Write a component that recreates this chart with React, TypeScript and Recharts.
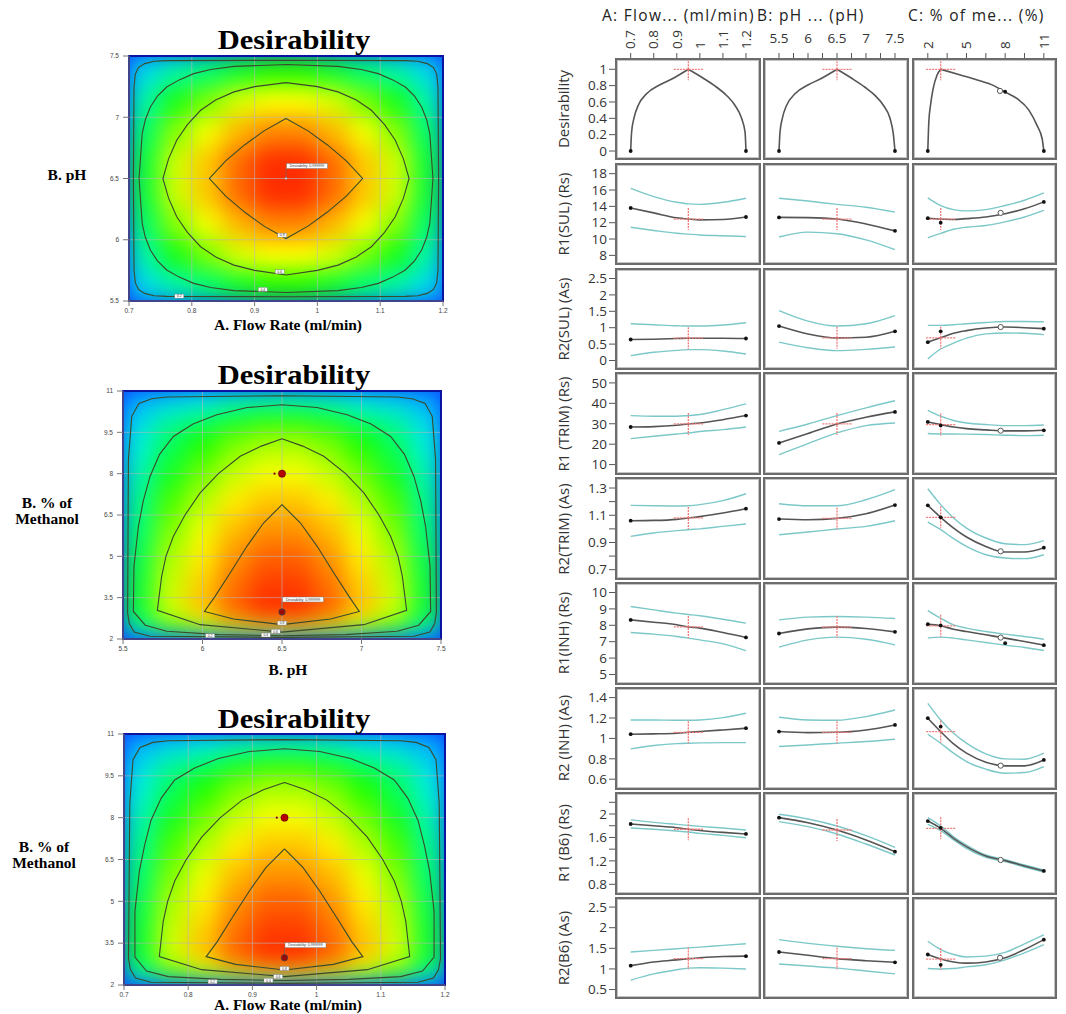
import React from 'react';
import { ComposedChart, Line, Scatter, XAxis, YAxis, CartesianGrid, ReferenceArea } from 'recharts';

/* ---------------- contour plots (left column) ---------------- */

const flowTicks = [0.7, 0.8, 0.9, 1, 1.1, 1.2];
const phTicks = [5.5, 6, 6.5, 7, 7.5];
const methTicks = [2, 3.5, 5, 6.5, 8, 9.5, 11];

// heat-map cell edges: columns left -> right, rows top -> bottom
const flowColEdges = [0.7, 0.75, 0.8, 0.85, 0.9, 0.95, 1.0, 1.05, 1.1, 1.15, 1.2];
const phColEdges = [5.5, 5.7, 5.9, 6.1, 6.3, 6.5, 6.7, 6.9, 7.1, 7.3, 7.5];
const phRowEdges = [7.5, 7.25, 7.0, 6.75, 6.5, 6.25, 6.0, 5.75, 5.5];
const methRowEdges = [11, 10.2, 9.5, 8.5, 7.5, 6.5, 5.5, 4.5, 3.5, 3.0, 2.5, 2.2, 2.0];

// desirability estimated from the colour field, one value per cell
const heatFlowPh = [
  [0.24, 0.34, 0.40, 0.46, 0.50, 0.50, 0.46, 0.40, 0.34, 0.24],
  [0.34, 0.48, 0.57, 0.66, 0.70, 0.70, 0.66, 0.57, 0.48, 0.34],
  [0.41, 0.58, 0.69, 0.79, 0.85, 0.85, 0.79, 0.69, 0.58, 0.41],
  [0.45, 0.65, 0.77, 0.88, 0.95, 0.95, 0.88, 0.77, 0.65, 0.45],
  [0.45, 0.65, 0.77, 0.88, 0.95, 0.95, 0.88, 0.77, 0.65, 0.45],
  [0.41, 0.58, 0.69, 0.79, 0.85, 0.85, 0.79, 0.69, 0.58, 0.41],
  [0.34, 0.48, 0.57, 0.66, 0.70, 0.70, 0.66, 0.57, 0.48, 0.34],
  [0.24, 0.34, 0.40, 0.46, 0.50, 0.50, 0.46, 0.40, 0.34, 0.24],
];
const heatPhMeth = [
  [0.16, 0.23, 0.27, 0.32, 0.34, 0.34, 0.32, 0.27, 0.23, 0.16],
  [0.24, 0.35, 0.41, 0.47, 0.51, 0.51, 0.47, 0.41, 0.35, 0.24],
  [0.29, 0.42, 0.50, 0.57, 0.61, 0.61, 0.57, 0.50, 0.42, 0.29],
  [0.33, 0.47, 0.56, 0.64, 0.69, 0.69, 0.64, 0.56, 0.47, 0.33],
  [0.37, 0.53, 0.62, 0.72, 0.77, 0.77, 0.72, 0.62, 0.53, 0.37],
  [0.40, 0.57, 0.68, 0.78, 0.83, 0.83, 0.78, 0.68, 0.57, 0.40],
  [0.43, 0.61, 0.72, 0.83, 0.89, 0.89, 0.83, 0.72, 0.61, 0.43],
  [0.45, 0.64, 0.76, 0.87, 0.93, 0.93, 0.87, 0.76, 0.64, 0.45],
  [0.46, 0.66, 0.79, 0.90, 0.96, 0.96, 0.90, 0.79, 0.66, 0.46],
  [0.43, 0.62, 0.73, 0.84, 0.90, 0.90, 0.84, 0.73, 0.62, 0.43],
  [0.33, 0.47, 0.56, 0.64, 0.69, 0.69, 0.64, 0.56, 0.47, 0.33],
  [0.16, 0.23, 0.27, 0.32, 0.34, 0.34, 0.32, 0.27, 0.23, 0.16],
];
const heatFlowMeth = [
  [0.16, 0.23, 0.27, 0.32, 0.34, 0.34, 0.32, 0.27, 0.23, 0.16],
  [0.24, 0.35, 0.41, 0.47, 0.51, 0.51, 0.47, 0.41, 0.35, 0.24],
  [0.29, 0.42, 0.50, 0.57, 0.61, 0.61, 0.57, 0.50, 0.42, 0.29],
  [0.33, 0.47, 0.56, 0.64, 0.69, 0.69, 0.64, 0.56, 0.47, 0.33],
  [0.37, 0.53, 0.62, 0.72, 0.77, 0.77, 0.72, 0.62, 0.53, 0.37],
  [0.40, 0.57, 0.68, 0.78, 0.83, 0.83, 0.78, 0.68, 0.57, 0.40],
  [0.43, 0.61, 0.72, 0.83, 0.89, 0.89, 0.83, 0.72, 0.61, 0.43],
  [0.45, 0.64, 0.76, 0.87, 0.93, 0.93, 0.87, 0.76, 0.64, 0.45],
  [0.46, 0.66, 0.79, 0.90, 0.96, 0.96, 0.90, 0.79, 0.66, 0.46],
  [0.43, 0.62, 0.73, 0.84, 0.90, 0.90, 0.84, 0.73, 0.62, 0.43],
  [0.33, 0.47, 0.56, 0.64, 0.69, 0.69, 0.64, 0.56, 0.47, 0.33],
  [0.16, 0.23, 0.27, 0.32, 0.34, 0.34, 0.32, 0.27, 0.23, 0.16],
];

// contour lines (0.2, 0.4, 0.6, 0.8), traced point by point
const contoursFlowPh = [
  [[0.95, 7.465], [1.14, 7.462], [1.16, 7.457], [1.175, 7.438], [1.185, 7.405], [1.19, 7.35], [1.192, 7.247], [1.193, 6.5], [1.192, 5.753], [1.19, 5.65], [1.185, 5.595], [1.175, 5.562], [1.16, 5.543], [1.14, 5.538], [0.95, 5.535], [0.76, 5.538], [0.74, 5.543], [0.725, 5.562], [0.715, 5.595], [0.71, 5.65], [0.708, 5.753], [0.707, 6.5], [0.708, 7.247], [0.71, 7.35], [0.715, 7.405], [0.725, 7.438], [0.74, 7.457], [0.76, 7.462], [0.95, 7.465]],
  [[0.95, 7.43], [1.033, 7.415], [1.07, 7.39], [1.097, 7.356], [1.12, 7.305], [1.14, 7.247], [1.155, 7.17], [1.166, 7.084], [1.174, 6.98], [1.179, 6.867], [1.184, 6.5], [1.179, 6.133], [1.174, 6.02], [1.166, 5.916], [1.155, 5.83], [1.14, 5.753], [1.12, 5.695], [1.097, 5.644], [1.07, 5.61], [1.033, 5.585], [0.95, 5.57], [0.867, 5.585], [0.83, 5.61], [0.803, 5.644], [0.78, 5.695], [0.76, 5.753], [0.745, 5.83], [0.734, 5.916], [0.726, 6.02], [0.721, 6.133], [0.716, 6.5], [0.721, 6.867], [0.726, 6.98], [0.734, 7.084], [0.745, 7.17], [0.76, 7.247], [0.78, 7.305], [0.803, 7.356], [0.83, 7.39], [0.867, 7.415], [0.95, 7.43]],
  [[0.95, 7.283], [1.0, 7.25], [1.033, 7.207], [1.062, 7.14], [1.086, 7.057], [1.107, 6.94], [1.124, 6.812], [1.137, 6.66], [1.146, 6.5], [1.137, 6.34], [1.124, 6.188], [1.107, 6.06], [1.086, 5.943], [1.062, 5.86], [1.033, 5.793], [1.0, 5.75], [0.95, 5.712], [0.9, 5.75], [0.867, 5.793], [0.838, 5.86], [0.814, 5.943], [0.793, 6.06], [0.776, 6.188], [0.763, 6.34], [0.754, 6.5], [0.763, 6.66], [0.776, 6.812], [0.793, 6.94], [0.814, 7.057], [0.838, 7.14], [0.867, 7.207], [0.9, 7.25], [0.95, 7.283]],
  [[0.95, 6.99], [0.985, 6.889], [1.016, 6.774], [1.046, 6.644], [1.072, 6.5], [1.046, 6.356], [1.016, 6.226], [0.985, 6.111], [0.95, 6.01], [0.915, 6.111], [0.884, 6.226], [0.854, 6.356], [0.828, 6.5], [0.854, 6.644], [0.884, 6.774], [0.915, 6.889], [0.95, 6.99]],
];
const contoursPhMeth = [
  [[6.5, 10.83], [7.225, 10.78], [7.32, 10.72], [7.4, 10.55], [7.445, 10.08], [7.466, 8.51], [7.471, 2.94], [7.46, 2.55], [7.43, 2.25], [7.33, 2.1], [6.5, 2.06], [5.67, 2.1], [5.57, 2.25], [5.54, 2.55], [5.529, 2.94], [5.534, 8.51], [5.555, 10.08], [5.6, 10.55], [5.68, 10.72], [5.775, 10.78], [6.5, 10.83]],
  [[6.5, 10.5], [6.72, 10.4], [6.91, 10.14], [7.06, 9.8], [7.183, 9.35], [7.27, 8.7], [7.33, 7.9], [7.373, 7.0], [7.403, 6.09], [7.431, 4.64], [7.435, 3.0], [7.36, 2.5], [7.225, 2.28], [6.9, 2.16], [6.5, 2.12], [6.1, 2.16], [5.775, 2.28], [5.64, 2.5], [5.565, 3.0], [5.569, 4.64], [5.597, 6.09], [5.627, 7.0], [5.67, 7.9], [5.73, 8.7], [5.817, 9.35], [5.94, 9.8], [6.09, 10.14], [6.28, 10.4], [6.5, 10.5]],
  [[6.5, 9.27], [6.63, 9.0], [6.763, 8.63], [6.9, 8.0], [7.015, 7.3], [7.11, 6.5], [7.183, 5.726], [7.23, 5.0], [7.257, 4.274], [7.284, 3.04], [7.015, 2.52], [6.5, 2.25], [5.985, 2.52], [5.716, 3.04], [5.743, 4.274], [5.77, 5.0], [5.817, 5.726], [5.89, 6.5], [5.985, 7.3], [6.1, 8.0], [6.237, 8.63], [6.37, 9.0], [6.5, 9.27]],
  [[6.5, 6.875], [6.616, 6.21], [6.721, 5.363], [6.826, 4.395], [6.921, 3.548], [6.986, 3.0], [6.805, 2.726], [6.5, 2.52], [6.195, 2.726], [6.012, 3.0], [6.079, 3.548], [6.174, 4.395], [6.279, 5.363], [6.384, 6.21], [6.5, 6.875]],
];
const contoursFlowMeth = [
  [[0.95, 10.8], [1.131, 10.76], [1.155, 10.7], [1.175, 10.52], [1.186, 10.08], [1.191, 8.51], [1.193, 2.94], [1.19, 2.55], [1.182, 2.25], [1.158, 2.1], [0.95, 2.06], [0.742, 2.1], [0.718, 2.25], [0.71, 2.55], [0.707, 2.94], [0.709, 8.51], [0.714, 10.08], [0.725, 10.52], [0.745, 10.7], [0.769, 10.76], [0.95, 10.8]],
  [[0.95, 10.47], [1.005, 10.37], [1.053, 10.12], [1.09, 9.78], [1.121, 9.35], [1.142, 8.7], [1.158, 7.9], [1.168, 7.0], [1.176, 6.09], [1.183, 4.64], [1.183, 3.0], [1.165, 2.5], [1.131, 2.3], [1.05, 2.2], [0.95, 2.16], [0.85, 2.2], [0.769, 2.3], [0.735, 2.5], [0.717, 3.0], [0.717, 4.64], [0.724, 6.09], [0.732, 7.0], [0.742, 7.9], [0.758, 8.7], [0.779, 9.35], [0.81, 9.78], [0.847, 10.12], [0.895, 10.37], [0.95, 10.47]],
  [[0.95, 9.26], [0.983, 9.0], [1.016, 8.63], [1.05, 8.0], [1.079, 7.3], [1.103, 6.5], [1.121, 5.726], [1.132, 5.0], [1.139, 4.274], [1.145, 3.02], [1.079, 2.55], [0.95, 2.3], [0.821, 2.55], [0.755, 3.02], [0.761, 4.274], [0.768, 5.0], [0.779, 5.726], [0.797, 6.5], [0.821, 7.3], [0.85, 8.0], [0.884, 8.63], [0.917, 9.0], [0.95, 9.26]],
  [[0.95, 6.88], [0.979, 6.21], [1.005, 5.363], [1.032, 4.395], [1.055, 3.548], [1.072, 3.02], [1.026, 2.74], [0.95, 2.54], [0.874, 2.74], [0.828, 3.02], [0.845, 3.548], [0.868, 4.395], [0.895, 5.363], [0.921, 6.21], [0.95, 6.88]],
];

const contourLevels = ['0.2', '0.4', '0.6', '0.8'];
const labelsFlowPh = [[0.78, 5.54], [0.913, 5.595], [0.94, 5.739], [0.944, 6.038]];
const labelsPhMeth = [[6.048, 2.12], [6.398, 2.145], [6.46, 2.28], [6.5, 2.58]];
const labelsFlowMeth = [[0.838, 2.12], [0.925, 2.17], [0.94, 2.3], [0.95, 2.59]];

// optimum flags and the design points shown as red dots
const optFlowPh = [0.95, 6.5];
const optPhMeth = [6.5, 2.98];
const optFlowMeth = [0.95, 2.98];
const redPhMeth = [[6.5, 8.0]];
const redSmallPhMeth = [[6.453, 8.0]];
const redFlowMeth = [[0.95, 8.0]];
const redSmallFlowMeth = [[0.938, 8.0]];

const heatStops: [number, number[]][] = [
  [0, [16, 32, 255]], [0.15, [0, 176, 255]], [0.28, [0, 240, 224]], [0.4, [0, 255, 112]],
  [0.5, [32, 255, 0]], [0.6, [160, 255, 0]], [0.7, [255, 255, 0]], [0.8, [255, 176, 0]],
  [0.9, [255, 90, 0]], [1, [255, 0, 0]],
];

function heatColor(v: number) {
  for (let i = 1; i < heatStops.length; i++) {
    const [b, cb] = heatStops[i];
    const [a, ca] = heatStops[i - 1];
    if (v <= b) {
      const t = (v - a) / (b - a);
      const c = ca.map((k, j) => Math.round(k + (cb[j] - k) * t));
      return `rgb(${c[0]},${c[1]},${c[2]})`;
    }
  }
  return 'rgb(255,0,0)';
}

const pts = (list: number[][]) => list.map(([x, y]) => ({ x, y }));

const Empty = () => <g />;

const RedDot = (p: any) => <circle cx={p.cx} cy={p.cy} r={3.6} fill="#b40000" stroke="#5a0000" strokeWidth={0.6} />;
const RedSmall = (p: any) => <circle cx={p.cx} cy={p.cy} r={1.1} fill="#8a0000" />;

const ContourTag = (p: any) => (
  <g>
    <rect x={p.cx - 4.5} y={p.cy - 2} width={9} height={4} fill="#fff" stroke="#777" strokeWidth={0.4} />
    <text x={p.cx} y={p.cy + 1.3} fontSize={3.4} textAnchor="middle" fill="#333" fontFamily="Liberation Sans">{p.payload.t}</text>
  </g>
);

const makeFlag = (big: boolean) => (p: any) => (
  <g>
    <line x1={p.cx} y1={p.cy} x2={p.cx} y2={p.cy - 10} stroke="#666" strokeWidth={0.6} />
    <rect x={p.cx + 0.5} y={p.cy - 15} width={41} height={5} fill="#fff" stroke="#777" strokeWidth={0.5} />
    <text x={p.cx + 21} y={p.cy - 11.3} fontSize={3.6} textAnchor="middle" fill="#333" fontFamily="Liberation Sans">Desirability: 0.999999</text>
    {big
      ? <circle cx={p.cx} cy={p.cy} r={3.2} fill="#9a0a0a" stroke="#444" strokeWidth={0.8} />
      : <circle cx={p.cx} cy={p.cy} r={1.2} fill="#ddd" stroke="#666" strokeWidth={0.4} />}
  </g>
);

const PAD = 36;
const serif = "'Liberation Serif', 'Times New Roman', serif";

function Text({ x, y, children, style }: any) {
  return (
    <div style={{ position: 'absolute', left: x, top: y, transform: 'translate(-50%, -50%)', whiteSpace: 'nowrap', lineHeight: 1.0, ...style }}>
      {children}
    </div>
  );
}

function ContourPlot({ rect, xDomain, yDomain, xTicks, yTicks, xEdges, yEdges, heat, contours, labels, opt, bigOpt, red, redSmall, title, ylabel, xlabel }: any) {
  const cells: any[] = [];
  heat.forEach((row: number[], i: number) =>
    row.forEach((v: number, j: number) => {
      const c = heatColor(v);
      cells.push(
        <ReferenceArea key={`c${i}-${j}`} x1={xEdges[j]} x2={xEdges[j + 1]} y1={yEdges[i + 1]} y2={yEdges[i]}
          fill={c} fillOpacity={1} stroke={c} strokeWidth={0.8} ifOverflow="visible" />,
      );
    }),
  );
  const tagData = labels.map(([x, y]: number[], i: number) => ({ x, y, t: contourLevels[i] }));
  const tickStyle = { fontSize: 6.5, fill: '#444', fontFamily: 'Liberation Sans' };
  return (
    <>
      <div style={{ position: 'absolute', left: rect.x, top: rect.y, width: rect.w, height: rect.h, overflow: 'hidden' }}>
        <div style={{ position: 'absolute', left: -PAD, top: -PAD, width: rect.w + 2 * PAD, height: rect.h + 2 * PAD, background: '#1038ff', filter: 'blur(11px)' }}>
          <ComposedChart width={rect.w + 2 * PAD} height={rect.h + 2 * PAD} margin={{ top: PAD, right: PAD, bottom: PAD, left: PAD }}>
            <XAxis type="number" dataKey="x" domain={xDomain} allowDataOverflow hide />
            <YAxis type="number" dataKey="y" domain={yDomain} allowDataOverflow hide />
            {cells}
            <Scatter data={pts([[xDomain[0], yDomain[0]]])} shape={Empty} isAnimationActive={false} />
          </ComposedChart>
        </div>
      </div>
      <div style={{ position: 'absolute', left: rect.x - 40, top: rect.y - 8 }}>
        <ComposedChart width={rect.w + 48} height={rect.h + 32} margin={{ top: 8, right: 8, bottom: 4, left: 10 }}>
          <CartesianGrid stroke="#b8b8b8" strokeOpacity={0.75} strokeWidth={0.8} />
          <XAxis type="number" dataKey="x" domain={xDomain} ticks={xTicks} interval={0} allowDataOverflow height={20}
            tick={tickStyle} tickSize={5} tickMargin={2} stroke="#777" />
          <YAxis type="number" dataKey="y" domain={yDomain} ticks={yTicks} interval={0} allowDataOverflow width={30}
            tick={tickStyle} tickSize={6} tickMargin={4} stroke="#777" />
          <ReferenceArea x1={xDomain[0]} x2={xDomain[1]} y1={yDomain[0]} y2={yDomain[1]} fill="none" stroke="#0a14a0" strokeWidth={2} ifOverflow="visible" />
          {contours.map((c: number[][], i: number) => (
            <Scatter key={`k${i}`} data={pts(c)} shape={Empty} line={{ stroke: '#3a4a2c', strokeWidth: 1.1 }} lineJointType="linear" isAnimationActive={false} />
          ))}
          <Scatter data={tagData} shape={ContourTag} isAnimationActive={false} />
          {red && <Scatter data={pts(redSmall)} shape={RedSmall} isAnimationActive={false} />}
          {red && <Scatter data={pts(red)} shape={RedDot} isAnimationActive={false} />}
          <Scatter data={pts([opt])} shape={makeFlag(bigOpt)} isAnimationActive={false} />
        </ComposedChart>
      </div>
      <Text x={294} y={title} style={{ fontFamily: serif, fontWeight: 700, fontSize: 27, transform: 'translate(-50%, -50%) scaleX(1.13)' }}>Desirability</Text>
      <Text x={ylabel.x} y={ylabel.y} style={{ fontFamily: serif, fontWeight: 700, fontSize: 15.5, textAlign: 'center', lineHeight: 1.0 }}>
        {ylabel.lines.map((l: string) => <div key={l}>{l}</div>)}
      </Text>
      <Text x={288} y={xlabel.y} style={{ fontFamily: serif, fontWeight: 700, fontSize: 15.5 }}>{xlabel.text}</Text>
    </>
  );
}

/* ---------------- prediction profiler (right) ---------------- */

const flowX = [0.7, 0.8, 0.9, 0.95, 1.0, 1.1, 1.2];
const phX = [5.5, 6, 6.5, 7, 7.5];
const methX = [2, 3, 4, 5, 6.5, 8, 9.5, 11];
const settings = [0.95, 6.5, 3];

const desFlowX = [0.7, 0.704, 0.714, 0.733, 0.769, 0.827, 0.885, 0.95, 1.015, 1.073, 1.116, 1.152, 1.181, 1.196, 1.2];
const desFlowY = [0, 0.23, 0.4, 0.56, 0.7, 0.81, 0.89, 1.0, 0.89, 0.78, 0.68, 0.56, 0.4, 0.23, 0];
const desPhX = [5.5, 5.517, 5.557, 5.632, 5.776, 6.006, 6.236, 6.5, 6.753, 6.983, 7.155, 7.299, 7.414, 7.471, 7.5];
const desPhY = [0, 0.23, 0.4, 0.56, 0.7, 0.81, 0.89, 1.0, 0.89, 0.78, 0.68, 0.56, 0.4, 0.21, 0];
const desMethX = [2, 2.08, 2.21, 2.41, 2.72, 3.0, 4.53, 5.83, 7.12, 7.9, 8.93, 9.84, 10.48, 10.87, 11];
const desMethY = [0, 0.36, 0.56, 0.76, 0.93, 1.0, 0.93, 0.87, 0.80, 0.73, 0.64, 0.50, 0.31, 0.15, 0];
const desRings = [[7.6, 0.735]];
const desDots = [[8.0, 0.725]];

const r1Sul = {
  flow: { pred: [13.8, 13.2, 12.6, 12.45, 12.35, 12.4, 12.7], lo: [11.45, 11.05, 10.7, 10.6, 10.5, 10.4, 10.3], hi: [16.2, 15.2, 14.5, 14.3, 14.25, 14.5, 15.0] },
  ph: { pred: [12.65, 12.62, 12.45, 11.85, 11.0], lo: [10.25, 10.85, 10.65, 9.9, 8.7], hi: [15.0, 14.65, 14.25, 13.9, 13.3] },
  meth: { pred: [12.55, 12.45, 12.4, 12.5, 12.7, 13.1, 13.7, 14.55], lo: [10.15, 10.7, 11.2, 11.45, 11.65, 12.1, 12.7, 13.5], hi: [15.05, 14.1, 13.6, 13.45, 13.6, 14.1, 14.75, 15.65] },
  dots: [[3, 12.0]], rings: [[7.65, 13.2]],
};
const r2Sul = {
  flow: { pred: [0.64, 0.65, 0.67, 0.68, 0.68, 0.68, 0.67], lo: [0.15, 0.25, 0.31, 0.33, 0.33, 0.29, 0.2], hi: [1.12, 1.09, 1.06, 1.05, 1.05, 1.08, 1.15] },
  ph: { pred: [1.05, 0.81, 0.69, 0.71, 0.89], lo: [0.56, 0.39, 0.30, 0.34, 0.41], hi: [1.52, 1.2, 1.05, 1.12, 1.37] },
  meth: { pred: [0.56, 0.69, 0.83, 0.91, 0.99, 1.02, 1.0, 0.97], lo: [0.05, 0.35, 0.53, 0.68, 0.81, 0.84, 0.83, 0.79], hi: [1.07, 1.07, 1.09, 1.12, 1.16, 1.19, 1.19, 1.18] },
  dots: [[3, 0.89]], rings: [[7.65, 1.02]],
};
const r1Trim = {
  flow: { pred: [28.4, 28.6, 29.3, 29.9, 30.4, 32.0, 34.0], lo: [22.7, 23.9, 25.0, 25.5, 26.2, 27.1, 28.4], hi: [34.0, 33.7, 33.7, 34.0, 34.5, 36.9, 39.7] },
  ph: { pred: [20.6, 25.2, 29.9, 33.2, 35.8], lo: [14.9, 20.3, 25.5, 29.1, 30.4], hi: [26.3, 29.9, 34.0, 37.8, 41.3] },
  meth: { pred: [30.9, 29.6, 28.4, 27.6, 27.0, 26.5, 26.5, 26.8], lo: [25.2, 25.0, 25.0, 24.9, 24.7, 24.4, 24.2, 24.4], hi: [36.6, 33.7, 31.6, 30.4, 29.6, 29.1, 29.1, 29.4] },
  dots: [[3, 29.2]], rings: [[7.65, 26.6]],
};
const r2Trim = {
  flow: { pred: [1.06, 1.062, 1.07, 1.08, 1.09, 1.116, 1.148], lo: [0.945, 0.97, 0.987, 0.994, 1.0, 1.018, 1.036], hi: [1.173, 1.17, 1.168, 1.17, 1.178, 1.207, 1.258] },
  ph: { pred: [1.072, 1.067, 1.077, 1.111, 1.175], lo: [0.957, 0.977, 0.999, 1.018, 1.06], hi: [1.185, 1.17, 1.17, 1.214, 1.288] },
  meth: { pred: [1.173, 1.085, 1.006, 0.94, 0.871, 0.83, 0.83, 0.862], lo: [1.05, 0.994, 0.928, 0.871, 0.81, 0.786, 0.781, 0.81], hi: [1.295, 1.178, 1.08, 1.006, 0.933, 0.891, 0.884, 0.913] },
  dots: [[3, 1.085]], rings: [[7.65, 0.835]],
};
const r1Inh = {
  flow: { pred: [8.33, 8.19, 8.03, 7.9, 7.83, 7.56, 7.26], lo: [7.56, 7.46, 7.32, 7.22, 7.11, 6.87, 6.46], hi: [9.15, 8.94, 8.74, 8.66, 8.58, 8.37, 8.13] },
  ph: { pred: [7.5, 7.78, 7.89, 7.8, 7.6], lo: [6.67, 7.11, 7.28, 7.15, 6.81], hi: [8.33, 8.5, 8.54, 8.5, 8.41] },
  meth: { pred: [8.07, 7.97, 7.76, 7.62, 7.42, 7.22, 7.01, 6.79], lo: [7.22, 7.28, 7.22, 7.11, 6.95, 6.79, 6.65, 6.46], hi: [8.9, 8.43, 8.03, 7.83, 7.62, 7.46, 7.32, 7.15] },
  dots: [[3, 7.99], [8, 6.91]], rings: [[7.65, 7.25]],
};
const r2Inh = {
  flow: { pred: [1.041, 1.044, 1.05, 1.06, 1.067, 1.083, 1.1], lo: [0.897, 0.93, 0.949, 0.953, 0.956, 0.959, 0.959], hi: [1.181, 1.181, 1.178, 1.178, 1.181, 1.204, 1.247] },
  ph: { pred: [1.067, 1.057, 1.06, 1.083, 1.132], lo: [0.92, 0.936, 0.953, 0.969, 0.992], hi: [1.207, 1.181, 1.178, 1.214, 1.279] },
  meth: { pred: [1.198, 1.067, 0.946, 0.855, 0.767, 0.731, 0.731, 0.789], lo: [1.041, 0.953, 0.855, 0.773, 0.698, 0.659, 0.665, 0.724], hi: [1.344, 1.181, 1.05, 0.953, 0.848, 0.799, 0.796, 0.855] },
  dots: [[3, 1.116]], rings: [[7.65, 0.733]],
};
const r1B6 = {
  flow: { pred: [1.83, 1.80, 1.767, 1.74, 1.72, 1.687, 1.66], lo: [1.761, 1.739, 1.71, 1.693, 1.67, 1.636, 1.596], hi: [1.90, 1.858, 1.824, 1.807, 1.79, 1.761, 1.727] },
  ph: { pred: [1.938, 1.852, 1.727, 1.557, 1.357], lo: [1.87, 1.784, 1.659, 1.488, 1.30], hi: [1.995, 1.915, 1.795, 1.63, 1.43] },
  meth: { pred: [1.88, 1.756, 1.585, 1.443, 1.283, 1.204, 1.113, 1.028], lo: [1.824, 1.716, 1.557, 1.414, 1.26, 1.187, 1.096, 1.01], hi: [1.938, 1.795, 1.613, 1.471, 1.30, 1.22, 1.13, 1.045] },
  dots: [[3, 1.765]], rings: [[7.65, 1.215]],
};
const r2B6 = {
  flow: { pred: [1.08, 1.17, 1.22, 1.25, 1.27, 1.30, 1.31], lo: [0.73, 0.88, 0.98, 1.02, 1.03, 1.02, 1.0], hi: [1.41, 1.45, 1.49, 1.51, 1.53, 1.57, 1.61] },
  ph: { pred: [1.41, 1.33, 1.25, 1.2, 1.16], lo: [1.12, 1.07, 1.02, 0.95, 0.88], hi: [1.71, 1.62, 1.55, 1.49, 1.45] },
  meth: { pred: [1.35, 1.24, 1.17, 1.14, 1.17, 1.27, 1.47, 1.71], lo: [1.01, 1.0, 1.01, 1.05, 1.10, 1.22, 1.39, 1.59], hi: [1.67, 1.47, 1.35, 1.29, 1.31, 1.40, 1.61, 1.83] },
  dots: [[3, 1.10]], rings: [[7.6, 1.27]],
};

const responses = [r1Sul, r2Sul, r1Trim, r2Trim, r1Inh, r2Inh, r1B6, r2B6];
const rowTitles = ['Desirability', 'R1(SUL) (Rs)', 'R2(SUL) (As)', 'R1 (TRIM) (Rs)', 'R2(TRIM) (As)', 'R1(INH) (Rs)', 'R2 (INH) (As)', 'R1 (B6) (Rs)', 'R2(B6) (As)'];
const rowDomains = [[-0.116, 1.138], [6.76, 19.31], [-0.305, 2.82], [5.15, 55.34], [0.628, 1.381], [4.39, 10.64], [0.499, 1.504], [0.626, 2.376], [0.259, 2.744]];
const rowTicks = [
  [0, 0.2, 0.4, 0.6, 0.8, 1], [8, 10, 12, 14, 16, 18], [0, 0.5, 1, 1.5, 2, 2.5], [10, 20, 30, 40, 50],
  [0.7, 0.8, 0.9, 1.0, 1.1, 1.2, 1.3], [5, 6, 7, 8, 9, 10], [0.6, 0.8, 1, 1.2, 1.4],
  [0.8, 1.0, 1.2, 1.4, 1.6, 1.8, 2.0, 2.2], [0.5, 1, 1.5, 2, 2.5],
];
const rowTickLabels = [
  [0, 0.2, 0.4, 0.6, 0.8, 1], [8, 10, 12, 14, 16, 18], [0, 0.5, 1, 1.5, 2, 2.5], [10, 20, 30, 40, 50],
  [0.7, 0.9, 1.1, 1.3], [5, 6, 7, 8, 9, 10], [0.6, 0.8, 1, 1.2, 1.4], [0.8, 1.2, 1.6, 2], [0.5, 1, 1.5, 2, 2.5],
];
const colHeaders = ['A: Flow... (ml/min)', 'B: pH ... (pH)', 'C: % of me... (%)'];
const colDomains = [[0.632, 1.263], [5.224, 7.733], [0.774, 12.06]];
const colTicks = [[0.7, 0.8, 0.9, 1, 1.1, 1.2], [5.5, 5.75, 6, 6.25, 6.5, 6.75, 7, 7.25, 7.5], [2, 3.5, 5, 6.5, 8, 9.5, 11]];
const colTickLabels = [[0.7, 0.8, 0.9, 1, 1.1, 1.2], [5.5, 6, 6.5, 7, 7.5], [2, 5, 8, 11]];

const panelLefts = [615, 763, 911.5];
const panelW = 145.5;
const panelH = 102.5;
const rowTop0 = 57.7;
const rowPitch = 104.9;

const sans = "'Open Sans', 'Noto Sans', sans-serif";

const BlackDot = (p: any) => <circle cx={p.cx} cy={p.cy} r={1.9} fill="#111" />;
const Ring = (p: any) => <circle cx={p.cx} cy={p.cy} r={2.6} fill="#fff" stroke="#555" strokeWidth={1} />;
const Crosshair = (p: any) => (
  <g stroke="#f27c7c" strokeWidth={1.3} strokeDasharray="2 1">
    <line x1={p.cx - 14.5} x2={p.cx + 14.5} y1={p.cy} y2={p.cy} />
    <line x1={p.cx} x2={p.cx} y1={p.cy - 11} y2={p.cy + 11} />
  </g>
);

const makeTopTick = (col: number) => (props: any) => {
  const { x, y, payload } = props;
  const v = payload.value;
  if (!colTickLabels[col].includes(v)) return <g />;
  const common = { fontSize: 13.5, fill: '#333', fontFamily: sans };
  if (col === 1) {
    return <text x={x} y={y - 6} textAnchor="middle" {...common}>{String(v)}</text>;
  }
  return (
    <text x={x} y={y} transform={`rotate(-90 ${x} ${y})`} textAnchor="start" dy="0.35em" {...common}>{String(v)}</text>
  );
};

function ProfilerCell({ row, col }: { row: number; col: number }) {
  const left = panelLefts[col];
  const top = rowTop0 + row * rowPitch;
  const showY = col === 0;
  const showX = row === 0;
  const yW = showY ? 44 : 0;
  const xH = showX ? 50 : 0;
  const setting = settings[col];
  const labeled = rowTickLabels[row];

  let table: any[] = [];
  let ends: any[] = [];
  let cross: any[] = [];
  let halves: any[][] = [];
  let dots: number[][] = [];
  let rings: number[][] = [];

  if (row === 0) {
    const xs = [desFlowX, desPhX, desMethX][col];
    const ys = [desFlowY, desPhY, desMethY][col];
    const peak = ys.indexOf(Math.max(...ys));
    const all = xs.map((x, i) => ({ x, y: ys[i] }));
    halves = [all.slice(0, peak + 1), all.slice(peak)];
    ends = [all[0], all[all.length - 1]];
    cross = [all[xs.indexOf(setting)]];
    if (col === 2) { dots = desDots; rings = desRings; }
  } else {
    const r: any = responses[row - 1];
    const xs = [flowX, phX, methX][col];
    const s = [r.flow, r.ph, r.meth][col];
    table = xs.map((x, i) => ({ x, pred: s.pred[i], lo: s.lo[i], hi: s.hi[i] }));
    ends = [{ x: xs[0], y: s.pred[0] }, { x: xs[xs.length - 1], y: s.pred[xs.length - 1] }];
    const k = xs.indexOf(setting);
    cross = [{ x: setting, y: s.pred[k] }];
    if (col === 2) { dots = r.dots; rings = r.rings; }
  }

  return (
    <>
      <div style={{ position: 'absolute', left: left - yW, top: top - xH }}>
        <ComposedChart width={panelW + yW} height={panelH + xH} data={table} margin={{ top: 0, right: 0, bottom: 0, left: 0 }}>
          <XAxis type="number" dataKey="x" orientation="top" domain={colDomains[col]} allowDataOverflow hide={!showX}
            ticks={colTicks[col]} interval={0} height={50} tick={makeTopTick(col)} tickSize={5} tickMargin={4}
            axisLine={false} tickLine={{ stroke: '#555' }} />
          <YAxis type="number" dataKey="y" domain={rowDomains[row]} allowDataOverflow hide={!showY}
            ticks={rowTicks[row]} interval={0} width={44} tickSize={6} tickMargin={2} axisLine={false}
            tickLine={{ stroke: '#555' }} tick={{ fontSize: 13.5, fill: '#333', fontFamily: sans }}
            tickFormatter={(v: number) => (labeled.includes(v) ? String(v) : '')} />
          {row > 0 && <Line dataKey="hi" type="monotone" stroke="#7cc8c8" strokeWidth={1.4} dot={false} isAnimationActive={false} />}
          {row > 0 && <Line dataKey="lo" type="monotone" stroke="#7cc8c8" strokeWidth={1.4} dot={false} isAnimationActive={false} />}
          {row > 0 && <Line dataKey="pred" type="monotone" stroke="#555" strokeWidth={1.6} dot={false} isAnimationActive={false} />}
          {halves.map((h, i) => (
            <Scatter key={`h${i}`} data={h} shape={Empty} line={{ stroke: '#555', strokeWidth: 1.6 }} lineJointType="monotoneX" isAnimationActive={false} />
          ))}
          <Scatter data={cross} shape={Crosshair} isAnimationActive={false} />
          <Scatter data={ends} shape={BlackDot} isAnimationActive={false} />
          {dots.length > 0 && <Scatter data={pts(dots)} shape={BlackDot} isAnimationActive={false} />}
          {rings.length > 0 && <Scatter data={pts(rings)} shape={Ring} isAnimationActive={false} />}
        </ComposedChart>
      </div>
      <div style={{ position: 'absolute', left, top, width: panelW, height: panelH, boxSizing: 'border-box', border: '2px solid #6c6c6c', boxShadow: 'inset 0 0 0 1px #c4c4c4' }} />
    </>
  );
}

export default function App() {
  const cells: any[] = [];
  for (let r = 0; r < 9; r++) for (let c = 0; c < 3; c++) cells.push(<ProfilerCell key={`${r}-${c}`} row={r} col={c} />);
  return (
    <div style={{ position: 'absolute', left: 0, top: 0, width: 1066, height: 1014, background: '#fff', overflow: 'hidden' }}>
      <ContourPlot rect={{ x: 129, y: 56, w: 314, h: 245 }} xDomain={[0.7, 1.2]} yDomain={[5.5, 7.5]} xTicks={flowTicks} yTicks={phTicks}
        xEdges={flowColEdges} yEdges={phRowEdges} heat={heatFlowPh} contours={contoursFlowPh} labels={labelsFlowPh}
        opt={optFlowPh} bigOpt={false} title={40} ylabel={{ x: 67, y: 175, lines: ['B. pH'] }} xlabel={{ y: 325, text: 'A. Flow Rate (ml/min)' }} />
      <ContourPlot rect={{ x: 123, y: 391, w: 318, h: 248 }} xDomain={[5.5, 7.5]} yDomain={[2, 11]} xTicks={phTicks} yTicks={methTicks}
        xEdges={phColEdges} yEdges={methRowEdges} heat={heatPhMeth} contours={contoursPhMeth} labels={labelsPhMeth}
        opt={optPhMeth} bigOpt red={redPhMeth} redSmall={redSmallPhMeth} title={375}
        ylabel={{ x: 47, y: 510, lines: ['B. % of', 'Methanol'] }} xlabel={{ y: 670, text: 'B. pH' }} />
      <ContourPlot rect={{ x: 124, y: 734, w: 321, h: 251 }} xDomain={[0.7, 1.2]} yDomain={[2, 11]} xTicks={flowTicks} yTicks={methTicks}
        xEdges={flowColEdges} yEdges={methRowEdges} heat={heatFlowMeth} contours={contoursFlowMeth} labels={labelsFlowMeth}
        opt={optFlowMeth} bigOpt red={redFlowMeth} redSmall={redSmallFlowMeth} title={719}
        ylabel={{ x: 44, y: 854, lines: ['B. % of', 'Methanol'] }} xlabel={{ y: 1005, text: 'A. Flow Rate (ml/min)' }} />

      {colHeaders.map((h, i) => (
        <div key={h} style={{ position: 'absolute', left: [602, 757, 908][i], top: 16, transform: 'translateY(-50%)', fontFamily: sans, fontSize: 15.5, letterSpacing: 1.3, color: '#222', whiteSpace: 'nowrap', lineHeight: 1 }}>{h}</div>
      ))}
      {rowTitles.map((t, r) => (
        <Text key={t} x={563} y={rowTop0 + r * rowPitch + panelH / 2}
          style={{ fontFamily: sans, fontSize: 15, color: '#333', transform: 'translate(-50%, -50%) rotate(-90deg)' }}>{t}</Text>
      ))}
      {cells}
    </div>
  );
}
